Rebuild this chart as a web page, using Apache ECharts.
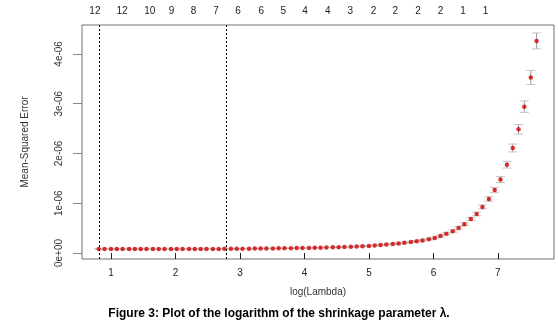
<!DOCTYPE html>
<html>
<head>
<meta charset="utf-8">
<script src="https://cdn.jsdelivr.net/npm/echarts@6/dist/echarts.min.js"></script>
<style>
  html, body { margin: 0; padding: 0; background: #fff; }
  #chart { width: 558px; height: 329px; }
</style>
</head>
<body>
<div id="chart"></div>
<script>
// log(lambda) for every fit
const logLambda = [
  0.81, 0.90, 1.00, 1.09, 1.18, 1.28, 1.37, 1.46, 1.55, 1.65,
  1.74, 1.83, 1.93, 2.02, 2.11, 2.21, 2.30, 2.39, 2.48, 2.58,
  2.67, 2.76, 2.86, 2.95, 3.04, 3.14, 3.23, 3.32, 3.41, 3.51,
  3.60, 3.69, 3.79, 3.88, 3.97, 4.07, 4.16, 4.25, 4.34, 4.44,
  4.53, 4.62, 4.72, 4.81, 4.90, 5.00, 5.09, 5.18, 5.27, 5.37,
  5.46, 5.55, 5.65, 5.74, 5.83, 5.93, 6.02, 6.11, 6.20, 6.30,
  6.39, 6.48, 6.58, 6.67, 6.76, 6.86, 6.95, 7.04, 7.14, 7.23,
  7.32, 7.41, 7.51, 7.60
];
// cv mean squared error, in units of 1e-06
const mse = [
  0.080, 0.080, 0.080, 0.080, 0.080, 0.080, 0.080, 0.080, 0.080, 0.080,
  0.080, 0.080, 0.080, 0.080, 0.080, 0.081, 0.081, 0.082, 0.082, 0.083,
  0.083, 0.084, 0.085, 0.086, 0.087, 0.088, 0.089, 0.090, 0.091, 0.092,
  0.094, 0.095, 0.097, 0.099, 0.101, 0.103, 0.105, 0.108, 0.111, 0.114,
  0.117, 0.121, 0.125, 0.130, 0.136, 0.143, 0.152, 0.162, 0.170, 0.182,
  0.193, 0.205, 0.222, 0.238, 0.254, 0.278, 0.303, 0.340, 0.385, 0.438,
  0.505, 0.580, 0.682, 0.785, 0.926, 1.085, 1.265, 1.475, 1.775, 2.110,
  2.485, 2.940, 3.525, 4.261
];
// standard error of the cv estimate, in units of 1e-06
const mseSe = [
  0.004, 0.004, 0.004, 0.004, 0.004, 0.004, 0.004, 0.004, 0.004, 0.004,
  0.004, 0.004, 0.004, 0.004, 0.004, 0.004, 0.004, 0.004, 0.004, 0.004,
  0.004, 0.004, 0.004, 0.005, 0.005, 0.005, 0.005, 0.005, 0.005, 0.005,
  0.005, 0.005, 0.005, 0.005, 0.005, 0.005, 0.005, 0.005, 0.005, 0.005,
  0.005, 0.006, 0.006, 0.007, 0.007, 0.008, 0.008, 0.009, 0.009, 0.010,
  0.010, 0.011, 0.012, 0.013, 0.014, 0.015, 0.016, 0.018, 0.020, 0.022,
  0.025, 0.028, 0.032, 0.036, 0.040, 0.046, 0.052, 0.060, 0.068, 0.080,
  0.096, 0.115, 0.140, 0.160
];
// number of nonzero coefficients shown along the top
const dfPos = [0.75, 1.17, 1.60, 1.94, 2.28, 2.63, 2.97, 3.33, 3.67, 4.01, 4.36, 4.71, 5.07, 5.41, 5.76, 6.11, 6.46, 6.81];
const dfLabels = ['12', '12', '10', '9', '8', '7', '6', '6', '5', '4', '4', '3', '2', '2', '2', '2', '1', '1'];
// lambda.min and lambda.1se
const vLines = [0.81, 2.78];
const xTicks = [1, 2, 3, 4, 5, 6, 7];
const yTicks = [0, 1, 2, 3, 4];

const points = logLambda.map((x, i) => [x, mse[i]]);
const bars = logLambda.map((x, i) => [x, mse[i] - mseSe[i], mse[i] + mseSe[i]]);

const chart = echarts.init(document.getElementById('chart'));

chart.setOption({
  animation: false,
  backgroundColor: '#fff',
  textStyle: { fontFamily: 'Liberation Sans, Arial, sans-serif' },
  grid: {
    left: 82, right: 4, top: 25, bottom: 70,
    show: true, borderColor: '#707070', borderWidth: 1
  },
  xAxis: [
    {
      type: 'value', min: 0.55, max: 7.87,
      name: 'log(Lambda)', nameLocation: 'middle', nameGap: 28,
      nameTextStyle: { fontSize: 10, color: '#333' },
      axisLine: { show: false },
      splitLine: { show: false },
      axisTick: { show: true, length: 6, customValues: xTicks, lineStyle: { color: '#222' } },
      axisLabel: { customValues: xTicks, fontSize: 10, color: '#222', margin: 9 }
    },
    {
      type: 'value', position: 'top', min: 0.55, max: 7.87,
      axisLine: { show: false },
      splitLine: { show: false },
      axisTick: { show: false },
      axisLabel: {
        customValues: dfPos, fontSize: 10, color: '#222', margin: 9,
        formatter: v => dfLabels[dfPos.indexOf(v)]
      }
    }
  ],
  yAxis: {
    type: 'value', min: -0.12, max: 4.58,
    name: 'Mean-Squared Error', nameLocation: 'middle', nameGap: 52, nameRotate: 90,
    nameTextStyle: { fontSize: 10, color: '#333' },
    axisLine: { show: false },
    splitLine: { show: false },
    axisTick: { show: true, length: 9, inside: false, customValues: yTicks, lineStyle: { color: '#888' } },
    axisLabel: {
      customValues: yTicks, rotate: 90, fontSize: 10, color: '#333', margin: 18,
      formatter: v => (v === 0 ? '0e+00' : v + 'e-06')
    }
  },
  series: [
    {
      type: 'custom',
      data: bars,
      z: 2,
      renderItem: (params, api) => {
        const lo = api.coord([api.value(0), api.value(1)]);
        const hi = api.coord([api.value(0), api.value(2)]);
        const w = 4.5;
        return {
          type: 'group',
          children: [
            { type: 'line', shape: { x1: lo[0], y1: lo[1], x2: hi[0], y2: hi[1] }, style: { stroke: '#999', lineWidth: 1 } },
            { type: 'line', shape: { x1: lo[0] - w, y1: lo[1], x2: lo[0] + w, y2: lo[1] }, style: { stroke: '#c4c4c4', lineWidth: 1 } },
            { type: 'line', shape: { x1: hi[0] - w, y1: hi[1], x2: hi[0] + w, y2: hi[1] }, style: { stroke: '#c4c4c4', lineWidth: 1 } }
          ]
        };
      }
    },
    {
      type: 'scatter',
      data: points,
      symbol: 'circle',
      symbolSize: 4.5,
      z: 3,
      itemStyle: { color: '#d40000' },
      markLine: {
        silent: true,
        symbol: 'none',
        label: { show: false },
        lineStyle: { color: '#000', width: 1, type: [2, 2] },
        data: vLines.map(v => ({ xAxis: v }))
      }
    }
  ],
  graphic: [
    {
      type: 'text', left: 'center', top: 308,
      style: {
        text: 'Figure 3: Plot of the logarithm of the shrinkage parameter λ.',
        fontSize: 12, fontWeight: 'bold', fill: '#000',
        fontFamily: 'Liberation Sans, Arial, sans-serif'
      }
    }
  ]
});
</script>
</body>
</html>
